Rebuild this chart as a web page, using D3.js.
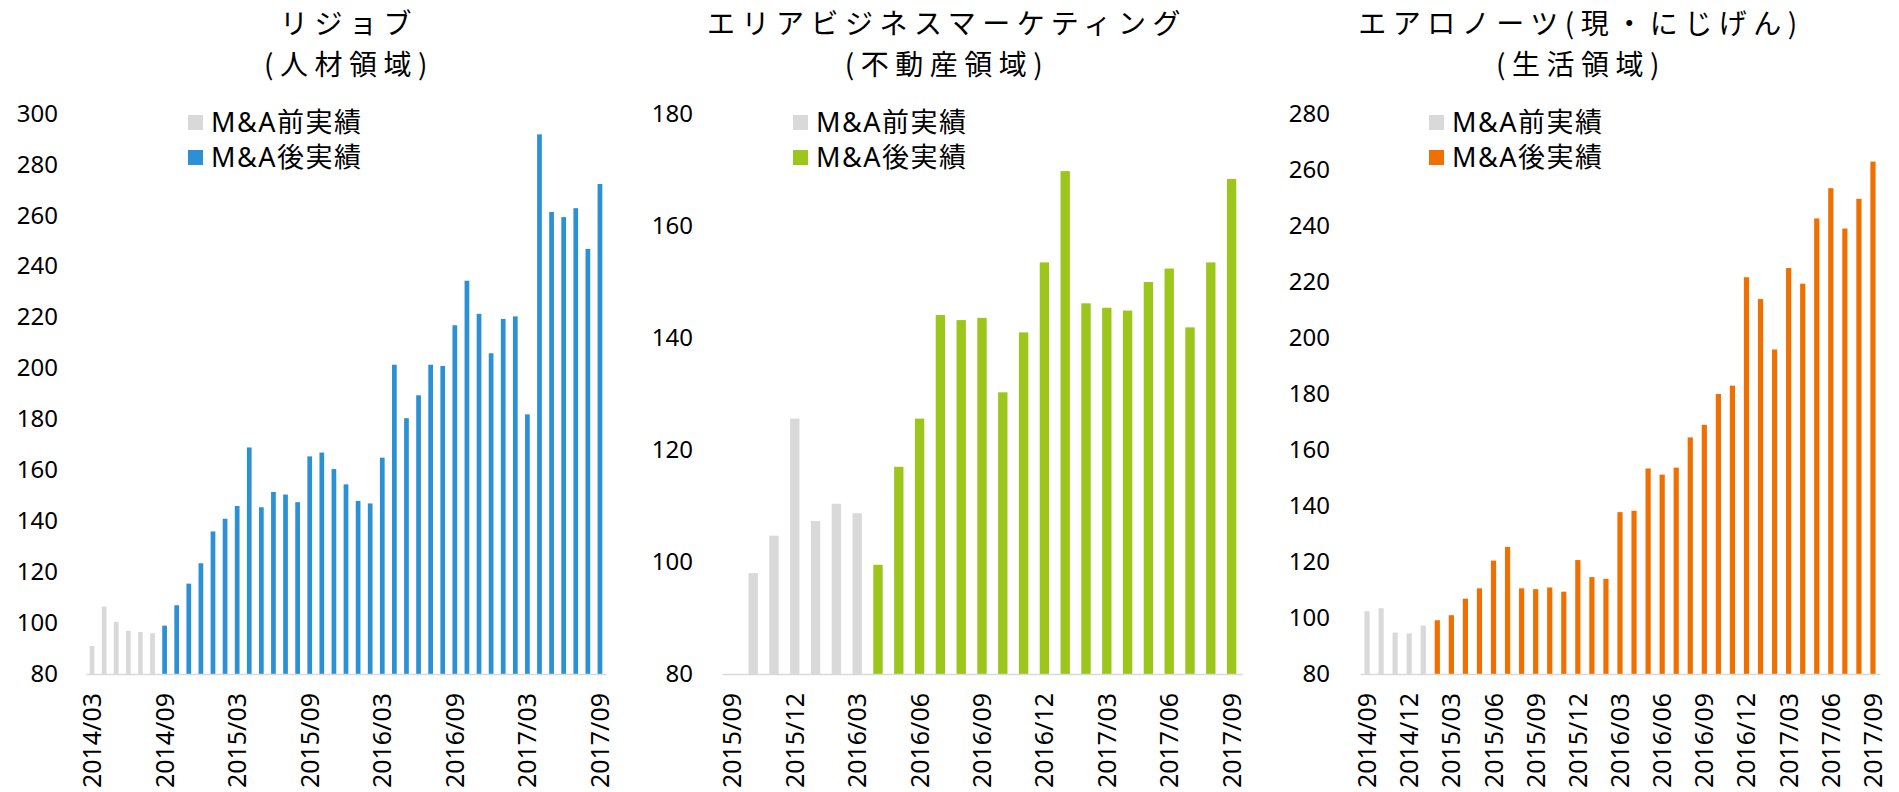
<!DOCTYPE html>
<html>
<head>
<meta charset="utf-8">
<script src="https://cdn.jsdelivr.net/npm/d3@7"></script>
<style>
  html, body { margin: 0; padding: 0; background: #fff; }
  svg { display: block; }
</style>
</head>
<body>
<div id="visualization"></div>
<script>
// リジョブ (人材領域)
const rejobTicks = ['2014/03', '2014/09', '2015/03', '2015/09', '2016/03', '2016/09', '2017/03', '2017/09'];
const rejobPre = [91, 106.5, 100.5, 97, 96.5, 96];
const rejobPost = [99, 107, 115.5, 123.5, 136, 141, 146, 169, 145.5, 151.5, 150.5, 147.5, 165.5, 167, 160.5,
  154.5, 148, 147, 165, 201.5, 180.5, 189.5, 201.5, 201, 217, 234.5, 221.5, 206, 219.5, 220.5, 182, 292,
  261.5, 259.5, 263, 247, 272.5];

// エリアビジネスマーケティング (不動産領域) - first month has no bar
const areaTicks = ['2015/09', '2015/12', '2016/03', '2016/06', '2016/09', '2016/12', '2017/03', '2017/06', '2017/09'];
const areaPre = [null, 98, 104.7, 125.6, 107.3, 110.4, 108.7];
const areaPost = [99.5, 117, 125.6, 144.1, 143.2, 143.6, 130.3, 141, 153.5, 169.8, 146.2, 145.4, 144.9, 150,
  152.4, 141.9, 153.5, 168.4];

// エアロノーツ (生活領域)
const aeroTicks = ['2014/09', '2014/12', '2015/03', '2015/06', '2015/09', '2015/12', '2016/03', '2016/06',
  '2016/09', '2016/12', '2017/03', '2017/06', '2017/09'];
const aeroPre = [102.4, 103.5, 94.8, 94.5, 97.3];
const aeroPost = [99.2, 101, 106.9, 110.6, 120.5, 125.4, 110.6, 110.3, 110.9, 109.4, 120.7, 114.6, 114, 137.8,
  138.3, 153.4, 151.2, 153.7, 164.5, 169, 180, 183, 221.7, 213.9, 195.9, 225, 219.4, 242.7, 253.5, 239.1,
  249.7, 263];

const legendLabels = ['M&A前実績', 'M&A後実績'];
const preColor = '#d9d9d9';

const width = 1899;
const height = 792;
const baseY = 674;
const topY = 114;
const latinFont = '"Noto Sans", "Noto Sans CJK JP", sans-serif';
const cjkFont = '"Noto Sans CJK JP", "Noto Sans", sans-serif';

const panels = [
  { title: ['リジョブ', '(人材領域)'], titleX: 349, ticks: rejobTicks, pre: rejobPre, post: rejobPost,
    yMax: 300, color: '#2c91d4', x0: 86, labelX: 58, barRatio: 0.39, legendX: 188 },
  { title: ['エリアビジネスマーケティング', '(不動産領域)'], titleX: 947, ticks: areaTicks, pre: areaPre, post: areaPost,
    yMax: 180, color: '#9cc61b', x0: 722, labelX: 693, barRatio: 0.45, legendX: 793 },
  { title: ['エアロノーツ(現・にじげん)', '(生活領域)'], titleX: 1581, ticks: aeroTicks, pre: aeroPre, post: aeroPost,
    yMax: 280, color: '#ef7000', x0: 1360, labelX: 1330, barRatio: 0.37, legendX: 1429 }
];

const svg = d3.select('#visualization')
  .append('svg')
  .attr('width', width)
  .attr('height', height);

svg.append('rect')
  .attr('width', width)
  .attr('height', height)
  .attr('fill', '#fff');

// month keys from the first tick to the last tick
function monthRange(first, last) {
  const parse = d3.timeParse('%Y/%m');
  const fmt = d3.timeFormat('%Y/%m');
  const end = parse(last);
  return d3.timeMonth.range(parse(first), d3.timeMonth.offset(end, 1)).map(fmt);
}

function drawPanel(p) {
  const months = monthRange(p.ticks[0], p.ticks[p.ticks.length - 1]);
  const rows = p.pre.map((v, i) => ({ month: months[i], value: v, pre: true }))
    .concat(p.post.map((v, i) => ({ month: months[p.pre.length + i], value: v, pre: false })));

  const g = svg.append('g');

  const x = d3.scaleBand()
    .domain(months)
    .range([p.x0, p.x0 + 520])
    .paddingInner(1 - p.barRatio)
    .paddingOuter((1 - p.barRatio) / 2);

  const y = d3.scaleLinear()
    .domain([80, p.yMax])
    .range([baseY, topY]);

  g.selectAll('rect.bar')
    .data(rows.filter((d) => d.value !== null))
    .join('rect')
    .attr('class', 'bar')
    .attr('x', (d) => x(d.month))
    .attr('width', x.bandwidth())
    .attr('y', (d) => y(d.value))
    .attr('height', (d) => baseY - y(d.value))
    .attr('fill', (d) => (d.pre ? preColor : p.color));

  // y axis labels only
  const yAxis = d3.axisLeft(y)
    .tickValues(d3.range(80, p.yMax + 1, 20))
    .tickSize(0)
    .tickPadding(p.x0 - p.labelX);
  const yg = g.append('g')
    .attr('transform', `translate(${p.x0},0)`)
    .call(yAxis);
  yg.select('.domain').remove();
  yg.selectAll('text')
    .attr('font-family', latinFont)
    .attr('font-size', 24)
    .attr('fill', '#000')
    .attr('dy', '0.3em');

  // x axis with rotated month labels
  const xAxis = d3.axisBottom(x)
    .tickValues(p.ticks)
    .tickSize(0)
    .tickSizeOuter(0);
  const xg = g.append('g')
    .attr('transform', `translate(0,${baseY})`)
    .call(xAxis);
  xg.select('.domain')
    .attr('stroke', '#d9d9d9')
    .attr('stroke-width', 1.6);
  xg.selectAll('text')
    .attr('font-family', latinFont)
    .attr('font-size', 25)
    .attr('fill', '#000')
    .attr('text-anchor', 'end')
    .attr('transform', 'rotate(-90)')
    .attr('x', -19)
    .attr('y', 0)
    .attr('dy', '0.36em');

  // title, two lines
  g.selectAll('text.title')
    .data(p.title)
    .join('text')
    .attr('class', 'title')
    .attr('x', p.titleX)
    .attr('y', (d, i) => 34 + i * 41)
    .attr('text-anchor', 'middle')
    .attr('font-family', cjkFont)
    .attr('font-size', 28)
    .attr('letter-spacing', 6.5)
    .attr('fill', '#000')
    .text((d) => d);

  // legend
  const legend = g.selectAll('g.legend')
    .data(legendLabels)
    .join('g')
    .attr('class', 'legend')
    .attr('transform', (d, i) => `translate(${p.legendX},${115 + i * 35})`);
  legend.append('rect')
    .attr('width', 15)
    .attr('height', 15)
    .attr('fill', (d, i) => (i === 0 ? preColor : p.color));
  legend.append('text')
    .attr('x', 23)
    .attr('y', 17)
    .attr('font-family', latinFont)
    .attr('font-size', 27)
    .attr('letter-spacing', 1.5)
    .attr('fill', '#000')
    .text((d) => d);
}

panels.forEach(drawPanel);
</script>
</body>
</html>
